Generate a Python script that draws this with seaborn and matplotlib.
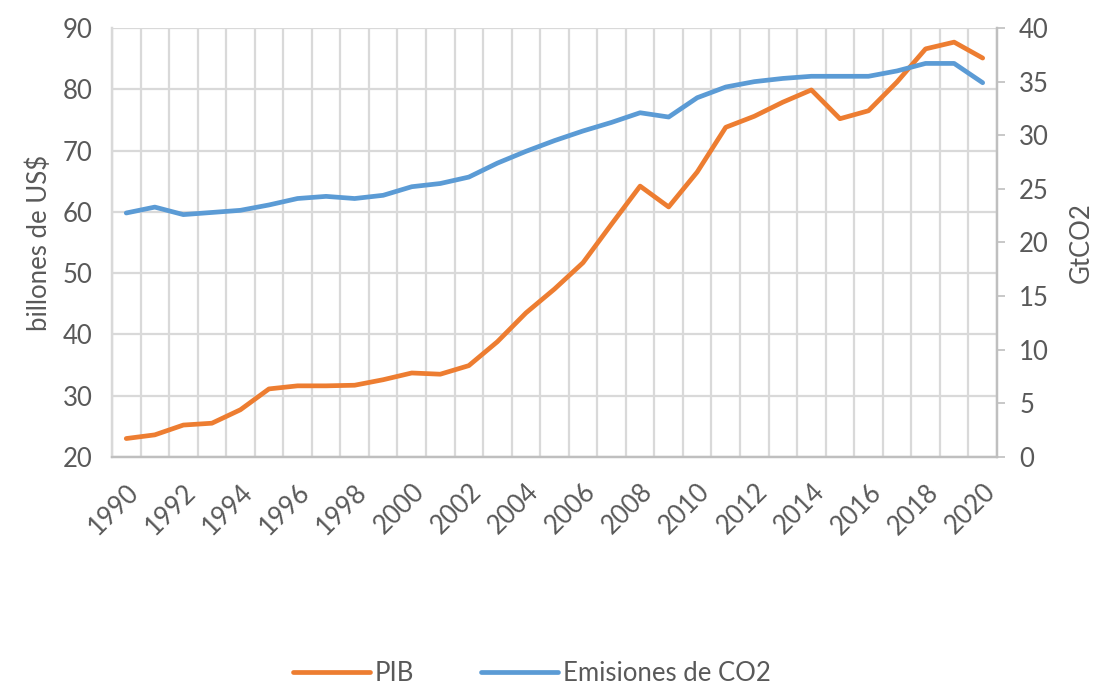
import numpy as np
import pandas as pd
import matplotlib
matplotlib.use("Agg")
import matplotlib.pyplot as plt
from matplotlib.ticker import MultipleLocator, FixedLocator
import seaborn as sns

years = list(range(1990, 2021))
pib = [23.0, 23.6, 25.2, 25.5, 27.7, 31.1, 31.6, 31.6, 31.7, 32.6,
       33.7, 33.5, 34.9, 38.8, 43.5, 47.4, 51.7, 58.0, 64.2, 60.8,
       66.5, 73.8, 75.6, 77.9, 79.9, 75.2, 76.5, 81.2, 86.6, 87.7, 85.1]
co2 = [22.75, 23.3, 22.6, 22.8, 23.0, 23.5, 24.1, 24.3, 24.1, 24.4,
       25.2, 25.5, 26.1, 27.4, 28.5, 29.5, 30.4, 31.2, 32.1, 31.7,
       33.5, 34.5, 35.0, 35.3, 35.5, 35.5, 35.5, 36.0, 36.7, 36.7, 34.9]
label_years = list(range(1990, 2021, 2))

df = pd.DataFrame({"year": years, "PIB": pib, "CO2": co2})

sns.set_theme(style="white")
plt.rcParams["font.family"] = ["Lato", "DejaVu Sans"]

text_color = "#595959"
grid_color = "#D9D9D9"
orange = "#ED7D31"
blue = "#5B9BD5"
fs = 18.5

fig = plt.figure(figsize=(11.01, 6.84), dpi=100)
ax = fig.add_axes([0.1017, 0.332, 0.9055 - 0.1017, 0.959 - 0.332])
ax2 = ax.twinx()

sns.lineplot(data=df, x="year", y="PIB", ax=ax, color=orange, linewidth=3.4)
sns.lineplot(data=df, x="year", y="CO2", ax=ax2, color=blue, linewidth=3.4)

ax.set_xlim(1989.5, 2020.5)
ax.set_ylim(20, 90)
ax2.set_ylim(0, 40)

ax.yaxis.set_major_locator(MultipleLocator(10))
ax2.yaxis.set_major_locator(MultipleLocator(5))
ax.xaxis.set_minor_locator(FixedLocator([y - 0.5 for y in years] + [2020.5]))

ax.grid(False)
ax2.grid(False)
ax.grid(True, which="minor", axis="x", color=grid_color, linewidth=1.6)
ax.grid(True, which="major", axis="y", color=grid_color, linewidth=1.6)
ax.set_axisbelow(True)

ax.set_xticks(label_years)
ax.set_xticklabels([str(y) for y in label_years], rotation=45, ha="right",
                   va="top", rotation_mode="anchor")
ax.tick_params(axis="x", which="both", length=0, pad=16, labelsize=fs,
               labelcolor=text_color)
ax.tick_params(axis="y", length=0, pad=14, labelsize=fs, labelcolor=text_color)
ax2.tick_params(axis="y", length=6, width=1.2, color="#BFBFBF", pad=10,
                labelsize=fs, labelcolor=text_color)

ax.set_xlabel("")
ax.set_ylabel("billones de US$", fontsize=fs, color=text_color, labelpad=8)
ax2.set_ylabel("GtCO2", fontsize=fs, color=text_color, labelpad=14)

for a in (ax, ax2):
    a.spines["top"].set_visible(False)
    a.spines["left"].set_color(grid_color)
    a.spines["left"].set_linewidth(1.6)
    a.spines["bottom"].set_color("#BFBFBF")
    a.spines["bottom"].set_linewidth(1.6)
    a.spines["right"].set_color("#BFBFBF")
    a.spines["right"].set_linewidth(1.6)

handles = [plt.Line2D([], [], color=orange, linewidth=3.4),
           plt.Line2D([], [], color=blue, linewidth=3.4)]
fig.legend(handles, ["PIB", "Emisiones de CO2"], loc="center",
           bbox_to_anchor=(0.483, 0.016), ncol=2, frameon=False,
           fontsize=fs, labelcolor=text_color, handlelength=3.0,
           handletextpad=0.2, columnspacing=2.6)

fig.savefig("out.png", dpi=100, facecolor="white")
